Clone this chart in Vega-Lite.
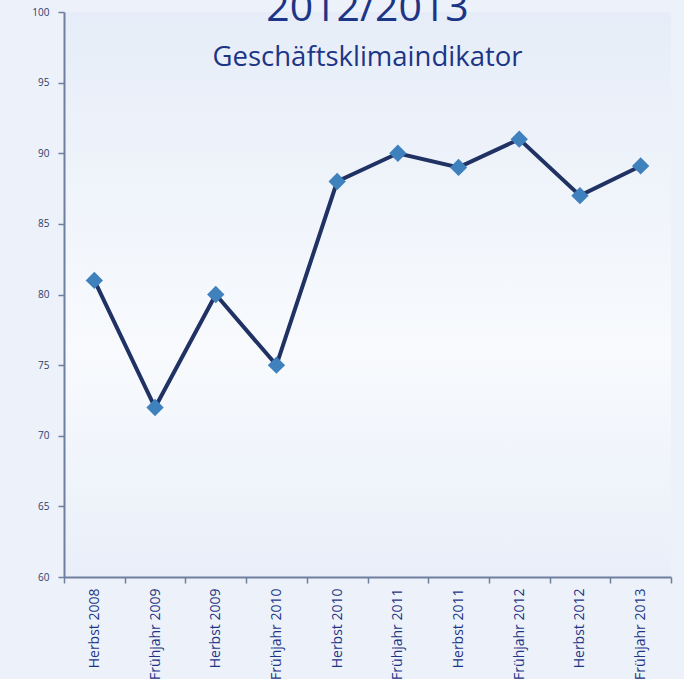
{
  "$schema": "https://vega.github.io/schema/vega-lite/v6.json",
  "autosize": {"type": "none"},
  "padding": {"left": 64, "top": 12, "right": 13, "bottom": 102},
  "width": 607,
  "height": 565,
  "background": "#edf2fa",
  "title": {
    "text": "2012/2013",
    "subtitle": "Geschäftsklimaindikator",
    "anchor": "middle",
    "frame": "group",
    "font": "Open Sans",
    "fontSize": 41,
    "fontWeight": "normal",
    "color": "#1d3585",
    "subtitleFont": "Open Sans",
    "subtitleFontSize": 27.5,
    "subtitleColor": "#1d3585",
    "subtitlePadding": 14,
    "offset": -65
  },
  "data": {
    "values": [
      {"period": "Herbst 2008", "value": 81},
      {"period": "Frühjahr 2009", "value": 72},
      {"period": "Herbst 2009", "value": 80},
      {"period": "Frühjahr 2010", "value": 75},
      {"period": "Herbst 2010", "value": 88},
      {"period": "Frühjahr 2011", "value": 90},
      {"period": "Herbst 2011", "value": 89},
      {"period": "Frühjahr 2012", "value": 91},
      {"period": "Herbst 2012", "value": 87},
      {"period": "Frühjahr 2013", "value": 89.1}
    ]
  },
  "encoding": {
    "x": {
      "field": "period",
      "type": "nominal",
      "sort": null,
      "title": null,
      "scale": {"paddingInner": 0, "paddingOuter": 0},
      "axis": {
        "labelAngle": -90,
        "labelAlign": "right",
        "labelBaseline": "middle",
        "labelFont": "Open Sans",
        "labelFontSize": 14,
        "labelColor": "#1d3585",
        "labelPadding": 5,
        "tickBand": "extent",
        "tickSize": 6,
        "tickColor": "#6f7f9f",
        "tickWidth": 1.5,
        "domainColor": "#6f7f9f",
        "domainWidth": 2,
        "grid": false
      }
    },
    "y": {
      "field": "value",
      "type": "quantitative",
      "title": null,
      "scale": {"domain": [60, 100], "nice": false, "zero": false},
      "axis": {
        "values": [60, 65, 70, 75, 80, 85, 90, 95, 100],
        "labelFont": "Open Sans",
        "labelFontSize": 10,
        "labelColor": "#2b3c6e",
        "labelPadding": 9,
        "tickSize": 6,
        "tickColor": "#6f7f9f",
        "tickWidth": 1.5,
        "domainColor": "#6f7f9f",
        "domainWidth": 2,
        "grid": false
      }
    }
  },
  "layer": [
    {"mark": {"type": "line", "color": "#1f3263", "strokeWidth": 4}},
    {"mark": {"type": "point", "shape": "diamond", "filled": true, "size": 300, "color": "#3f81bd", "opacity": 1}}
  ],
  "config": {
    "view": {
      "stroke": null,
      "fill": {
        "gradient": "linear",
        "x1": 0, "y1": 0, "x2": 0, "y2": 1,
        "stops": [
          {"offset": 0, "color": "#e6edf8"},
          {"offset": 0.6, "color": "#f8fafd"},
          {"offset": 1, "color": "#e9eff9"}
        ]
      }
    }
  }
}
